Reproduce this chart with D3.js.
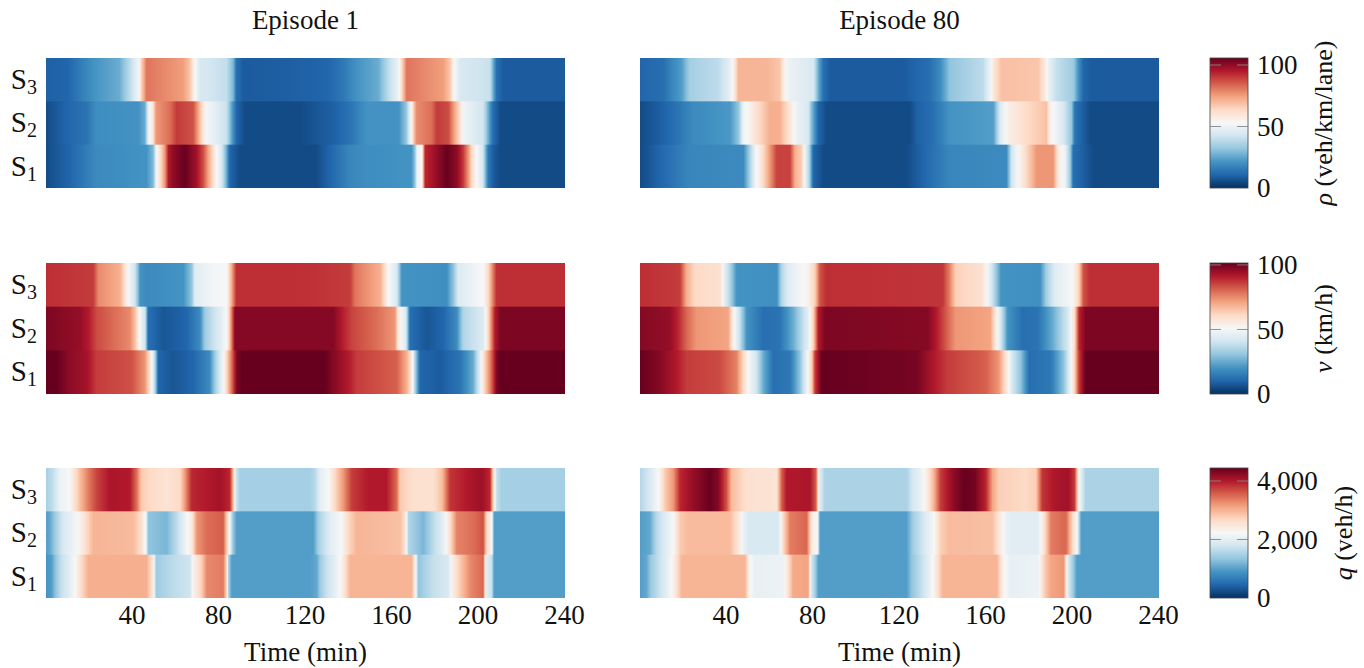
<!DOCTYPE html>
<html>
<head>
<meta charset="utf-8">
<script src="https://cdn.jsdelivr.net/npm/d3@7"></script>
<style>
  body { margin: 0; background: #fff; }
  text { font-family: "Liberation Serif", serif; fill: #111; }
</style>
</head>
<body>
<svg id="chart" width="1364" height="668"></svg>
<script>
// readings are [minute, value] pairs taken where the colour changes along each row
const rhoE1S3 = [[0,9.5],[10,10.5],[14,14],[22,21],[34,26.5],[38.8,39],[42.7,50.7],[44.2,65.5],[46.5,81.4],[55.8,78],[63.5,75],[66.6,67.6],[68.9,52.9],[71.2,44.4],[83.5,40],[86.6,28.5],[88.1,12.7],[91.2,8.5],[117.5,9.5],[130,10.5],[137.5,14.8],[143.7,21],[153.7,26.4],[158.3,39],[163,49.7],[164.5,63.4],[166.8,81.4],[176,78],[183.7,75],[186.8,67.6],[188.7,52.9],[191.5,44.4],[205.3,41],[206.6,28.5],[208.4,12.7],[211.5,8.5],[240,8.5]];
const rhoE1S2 = [[0,5.3],[9.6,10.6],[18.8,13.7],[23.4,20],[42.7,21],[45.8,26.4],[47.3,48.6],[49.3,59.2],[50.9,76],[57.3,82.4],[60.4,90],[68,86.7],[70.4,74],[72,63.4],[74.3,51.8],[83.5,41],[85.9,24.3],[88.1,10.6],[92,5.3],[117.5,5.3],[132.9,9.5],[140.6,13.7],[148.3,21],[163,21],[166.5,31.7],[168.6,50.7],[170.6,72],[171.4,78],[178.3,82.4],[180.7,90],[186,87.7],[188.4,76],[191.1,63.4],[193,50.7],[202.2,42.3],[203.8,31.7],[206.6,12.7],[210,5.3],[240,5.3]];
const rhoE1S1 = [[0,5.3],[4.2,7.4],[11,10.6],[15.7,13.7],[23.4,19],[46.5,21.1],[49.6,29.6],[51.2,52.9],[52.7,61.3],[55,76.1],[56.6,95.1],[58.9,100.4],[64.3,105.7],[69.7,97.2],[72.8,86.7],[75,74],[76.6,65.5],[78.9,52.9],[81.2,44.4],[83.5,26.4],[85,10.6],[89.7,5.3],[125,5.3],[131.3,10.6],[140.6,18],[148.3,20],[169,21.1],[170.6,31.7],[171.7,50.7],[173.7,52.9],[175.3,93],[179.1,97.2],[185.3,105.7],[189.9,100.4],[193,89.8],[195.3,76.1],[196.8,63.4],[199.1,52.9],[201.9,44.4],[203,31.7],[204.5,14.8],[206.9,8.5],[210,5.3],[240,5.3]];
const rhoE80S3 = [[0,10.6],[10.8,12.7],[15.4,19],[19.3,23.3],[23,34.9],[36.2,39.1],[40.8,46.5],[43.2,55],[45.5,70.8],[58.6,70.8],[64.7,67.6],[66.3,58.1],[68.6,49.7],[80.2,44.4],[82.5,26.4],[84.8,12.7],[87.9,8.5],[121.8,8.5],[134,12.7],[138.7,19],[143.3,31.7],[158.7,39.1],[161.8,49.7],[164.1,61.3],[167.2,68.7],[184.2,67.6],[187.3,58.1],[188.8,49.7],[192.6,40.2],[200.4,33.8],[202.7,21.1],[205,10.6],[208.8,8.5],[240,8.5]];
const rhoE80S2 = [[0,5.3],[7.7,8.5],[13.9,11.6],[24.7,19],[41.6,22.2],[45.5,31.7],[47.8,49.7],[51.6,57.1],[57,66.6],[60,71.9],[64.7,71.9],[69.4,59.2],[72.4,49.7],[77.8,44.4],[79.4,29.6],[82.5,10.6],[86.3,5.3],[124.8,5.3],[127.9,9.5],[135.6,12.7],[143.3,21.1],[163.4,23.3],[166.4,44.4],[170.3,56],[179.5,63.4],[188,68.7],[189.6,55],[195.7,44.4],[199.6,31.7],[201.1,13.7],[208,5.3],[240,5.3]];
const rhoE80S1 = [[0,5.3],[3.9,7.4],[10.8,11.6],[23.1,18],[47.8,19],[51.6,40.2],[53.2,49.7],[56.3,60.2],[60.1,76.1],[63.2,88.8],[69.4,88.8],[71.7,71.9],[74.8,65.5],[76.3,49.7],[78.2,37],[80.2,10.6],[84.8,5.3],[123.3,5.3],[131,10.6],[143.3,18],[169.5,19],[171.8,42.3],[174.1,50.7],[179.5,65.5],[183.4,76.1],[191.1,76.1],[193.4,58.1],[196.5,49.7],[199.1,31.7],[200.4,12.7],[209.6,5.3],[240,5.3]];

const vE1S3 = [[0,88.3],[21.9,86.3],[24.2,75.1],[34.2,69],[36,60.9],[38,50.8],[41.2,40.6],[43.5,20.3],[46.5,18.3],[63.5,20.3],[67.4,30.5],[68.9,44.7],[77.4,49.7],[83.5,50.8],[85,62.9],[86.6,76.1],[88,88.3],[117.5,88.3],[140.6,86.3],[142.9,78.2],[154.5,69],[156.8,58.9],[158.3,50.8],[162.2,42.6],[164.5,20.3],[185.3,19.3],[188.4,30.5],[190.7,43.6],[202.2,50.8],[204.5,60.9],[206.6,76.1],[208.4,88.3],[240,88.3]];
const vE1S2 = [[0,98.5],[15.7,95.4],[19.6,91.4],[23.4,84.2],[38.8,75.1],[41.2,66],[43.2,50.8],[45.8,40.6],[47.3,12.2],[54.3,7.1],[65,10.2],[71.2,18.3],[73.5,32.5],[80.5,44.7],[83.5,50.8],[85,66],[87.4,97.5],[132.9,97.5],[136.7,91.4],[141.4,85.3],[152.9,79.2],[161.4,73.1],[162.9,55.8],[166.5,42.6],[168.3,12.2],[176,7.1],[183.7,10.2],[189.9,18.3],[193,35.5],[202.2,43.6],[204.5,60.9],[207.6,91.4],[210,98.5],[240,98.5]];
const vE1S1 = [[0,101.5],[4.9,101.5],[11,96.4],[18.8,93.4],[23.4,86.3],[39.8,83.2],[45.8,73.1],[47.3,62.9],[48.9,50.8],[50.4,35.5],[52,10.2],[58.9,7.1],[68,10.2],[75.6,18.3],[78.7,35.5],[81.9,48.7],[83.5,60.9],[85.9,79.2],[88.2,98.5],[90.5,101.5],[129,101.5],[132.9,97.4],[139.8,91.4],[143.7,86.3],[162.2,81.2],[166.8,69],[169.1,55.8],[170.6,35.5],[173,10.2],[182.2,8.1],[191.4,13.2],[197.6,25.4],[200.7,45.7],[202.7,60.9],[206.1,81.2],[208.4,98.5],[210,101.5],[240,101.5]];
const vE80S3 = [[0,88.3],[18.5,86.3],[21.6,69],[25.4,60.9],[37,58.9],[39.3,44.7],[41.6,35.5],[44.7,20.3],[63.2,19.3],[65.5,35.5],[68.6,44.7],[77.8,52.8],[80.9,62.9],[83.2,83.2],[86.3,88.3],[140,87.3],[143.3,76.1],[146,62.9],[158,58.9],[161.8,45.7],[164.5,32.5],[167,20.3],[185,19.3],[188,33.5],[192,44.7],[200,50.8],[203,62.9],[205,83.2],[208,88.3],[240,88.3]];
const vE80S2 = [[0,97.5],[13.9,95.4],[17.7,89.3],[21.6,80.2],[26.2,73.1],[40.8,71.1],[43.2,52.8],[46.2,38.6],[49.3,20.3],[57,12.2],[64.7,13.2],[70.9,25.4],[77.8,45.7],[80.2,62.9],[82.5,91.4],[85.5,98.5],[133,97.5],[137,91.4],[141,83.2],[146,73.1],[162,71.1],[164.5,55.8],[167,40.6],[170,20.3],[177,12.2],[184,13.2],[191,25.4],[198,42.6],[201,60.9],[203,89.3],[206,98.5],[240,98.5]];
const vE80S1 = [[0,101.5],[9.2,97.4],[17,91.4],[21.6,86.3],[37,84.2],[44.7,76.1],[47.8,60.9],[50.1,50.8],[53.9,40.6],[57,25.4],[61.7,12.2],[69.4,14.2],[74,30.5],[77.1,47.7],[79.4,62.9],[80.9,86.3],[84,101.5],[128,99.5],[134,93.4],[142,86.3],[160,81.2],[166,73.1],[169,58.9],[172,42.6],[176,30.5],[180,12.2],[190,14.2],[196,30.5],[199,47.7],[201,62.9],[203,86.3],[206,101.5],[240,101.5]];

const qE1S3 = [[0,1470],[3.4,1690],[6.5,2090],[11,2220],[13.4,2580],[16.5,3020],[19.6,3380],[23.4,3730],[29.6,4040],[38.8,4000],[41.9,3470],[44.2,2800],[48,2670],[55.8,2530],[62,2670],[64.3,3200],[67.4,3910],[74.3,4000],[80.5,4090],[85,3910],[86.3,3110],[87.9,1780],[89.7,1470],[122,1470],[124.4,1600],[126.7,2000],[130.6,2220],[133.6,2670],[137.5,3200],[141.4,3780],[149,4000],[157.5,4000],[162.2,3470],[163.7,2800],[169.9,2580],[179,2580],[183,2890],[186.8,3820],[194.5,4000],[201.5,4130],[205.3,3910],[206.9,2670],[208.4,1690],[210.7,1470],[240,1470]];
const qE1S2 = [[0,980],[1.8,1070],[4.9,1510],[8,1870],[14.2,2180],[17.3,2490],[21.9,2980],[40.4,2930],[44.2,2580],[46.2,2130],[47.3,1330],[55.8,1200],[60.4,1640],[63.5,2000],[67.4,2440],[69.7,3200],[74.3,3470],[82,3560],[84.3,2440],[86.6,1330],[88.2,980],[123.6,980],[126,1470],[131.3,1960],[136.7,2220],[139.8,2670],[143.7,2980],[163.7,2890],[166,2580],[167.6,1560],[174.5,1200],[179.1,1640],[183.7,2000],[186.8,2580],[189.9,3330],[197.6,3470],[202.2,3640],[203.8,2670],[206.1,2220],[207.2,980],[240,980]];
const qE1S1 = [[0,890],[2.6,980],[4.2,1300],[7,1700],[9.6,1870],[13.4,2220],[16.5,2670],[19.6,3020],[46.5,3020],[49.6,2440],[50.9,1420],[58.9,1640],[66.6,1780],[68.1,2310],[71.9,2760],[74.3,3290],[82,3380],[83.5,2670],[84.3,1560],[85.9,980],[122,980],[125.2,1070],[126.7,1400],[129.5,1700],[133.6,2000],[136.7,2310],[140.6,2980],[169.1,2980],[170.6,2440],[172.2,1330],[174.5,1470],[179,1690],[186,1870],[187.6,2310],[191.4,2800],[196.1,3290],[202.2,3510],[203.5,2000],[206.1,1690],[207.2,980],[240,980]];
const qE80S3 = [[0,1560],[4.6,1870],[8.5,2220],[11.6,2800],[15.4,3200],[18.5,3910],[24.7,4180],[32.4,4440],[36.2,4270],[40,3640],[42.4,2930],[49.3,2580],[63.2,2530],[65.5,3560],[67.8,4000],[78.6,4040],[81.4,3560],[82.9,2000],[85.5,1510],[123.3,1510],[126.4,1870],[129.5,2040],[133,2440],[136,3020],[139,3780],[145,4220],[150,4440],[155,4360],[160,3910],[163,3110],[166,2760],[178,2670],[183,2760],[186,3820],[192,4040],[198,4090],[201,3780],[203,2220],[206,1510],[240,1510]];
const qE80S2 = [[0,980],[4.6,1070],[7.7,1600],[12.3,2000],[15.4,2220],[18.5,2800],[22.4,2930],[41.6,2930],[45.5,2490],[47.8,2090],[50.1,1870],[64,1870],[66.3,2670],[69.4,3380],[77.1,3510],[79.4,2440],[82,2220],[83.2,980],[123.3,980],[126.4,1470],[129.5,1690],[133,2000],[136,2220],[139,2760],[143,2930],[163,2890],[166,2490],[169,2090],[172,1960],[184,1960],[187,2580],[190,3380],[197,3510],[200,2670],[202,2220],[204,980],[240,980]];
const qE80S1 = [[0,980],[3,1070],[5,1400],[8,1640],[12.3,2000],[15.4,2310],[19.3,2980],[48.6,2980],[50.9,2220],[53.2,2040],[66.3,2090],[69.4,2760],[70.9,3070],[77.8,3110],[79.1,1870],[80.9,1470],[82.5,980],[123.3,980],[125.6,1330],[129.5,1640],[133,1960],[136,2310],[140,2980],[165,2980],[168,2310],[171,2040],[184,2090],[187,2760],[190,3110],[196,3200],[198,1870],[200,1470],[202,980],[240,980]];

const sections = ['3', '2', '1'];
const episodes = ['Episode 1', 'Episode 80'];
const timeTicks = [40, 80, 120, 160, 200, 240];
const rhoTicks = [0, 50, 100];
const vTicks = [0, 50, 100];
const qTicks = [0, 2000, 4000];

const svg = d3.select('#chart');
const defs = svg.append('defs');

// layout of the grid
const panelX = [[46, 565], [640, 1159]];
const barX = [1210, 1248];
const TICK_FONT = 27;

const rows = [
    { key: 'rho', y: [58, 188], max: 105.7, ticks: rhoTicks, e1: [rhoE1S3, rhoE1S2, rhoE1S1], e80: [rhoE80S3, rhoE80S2, rhoE80S1],
      symbol: 'ρ', unit: ' (veh/km/lane)', labelX: 1332, fmt: d3.format('d') },
    { key: 'v', y: [263, 394], max: 101.5, ticks: vTicks, e1: [vE1S3, vE1S2, vE1S1], e80: [vE80S3, vE80S2, vE80S1],
      symbol: 'v', unit: ' (km/h)', labelX: 1332, fmt: d3.format('d') },
    { key: 'q', y: [468, 598], max: 4444, ticks: qTicks, e1: [qE1S3, qE1S2, qE1S1], e80: [qE80S3, qE80S2, qE80S1],
      symbol: 'q', unit: ' (veh/h)', labelX: 1352, fmt: d3.format(',') }
];

const x = d3.scaleLinear().domain([0, 240]);
const colormap = d3.scaleLinear()
    .domain(d3.range(11).map(i => i / 10))
    .range(d3.schemeRdBu[11].slice().reverse());

// one gradient per row: extra stops between readings keep the colormap bends
const rowGradient = (id, readings, max) => {
    const grad = defs.append('linearGradient').attr('id', id);
    const stops = [];
    d3.pairs(readings).forEach(([a, b]) => {
        d3.range(4).forEach(i => {
            const f = i / 4;
            stops.push([a[0] + (b[0] - a[0]) * f, a[1] + (b[1] - a[1]) * f]);
        });
    });
    stops.push(readings[readings.length - 1]);
    grad.selectAll('stop').data(stops).join('stop')
        .attr('offset', d => d[0] / 240)
        .attr('stop-color', d => colormap(d[1] / max));
};

const noLine = g => g.call(a => a.select('.domain').remove()).call(a => a.selectAll('.tick line').remove());

rows.forEach((row, r) => {
    const band = d3.scaleBand().domain(sections).range(row.y);

    [row.e1, row.e80].forEach((series, p) => {
        const panel = svg.append('g');
        x.range(panelX[p]);

        series.forEach((readings, s) => {
            const id = `${row.key}-${p}-${s}`;
            rowGradient(id, readings, row.max);
            panel.append('rect')
                .attr('x', x(0))
                .attr('width', x(240) - x(0))
                .attr('y', band(sections[s]))
                .attr('height', band.bandwidth() + (s < 2 ? 0.7 : 0))
                .attr('fill', `url(#${id})`);
        });

        // section labels only on the left column
        if (p === 0) {
            const yAxis = panel.append('g')
                .attr('transform', `translate(${panelX[0][0] - 9},0)`)
                .call(d3.axisLeft(band).tickSize(0).tickPadding(0))
                .call(noLine);
            yAxis.selectAll('.tick text').each(function(d) {
                const t = d3.select(this).text(null).attr('font-size', 29);
                t.append('tspan').text('S');
                t.append('tspan').attr('dy', 5).attr('font-size', 20).text(d);
            });
        }

        if (r === 2) {
            panel.append('g')
                .attr('transform', `translate(-1,${row.y[1]})`)
                .call(d3.axisBottom(x).tickValues(timeTicks).tickSize(0).tickPadding(7))
                .call(noLine)
                .selectAll('text').attr('font-size', TICK_FONT);
            panel.append('text')
                .attr('x', (panelX[p][0] + panelX[p][1]) / 2)
                .attr('y', 661)
                .attr('text-anchor', 'middle')
                .attr('font-size', TICK_FONT)
                .text('Time (min)');
        }

        if (r === 0) {
            panel.append('text')
                .attr('x', (panelX[p][0] + panelX[p][1]) / 2)
                .attr('y', 29)
                .attr('text-anchor', 'middle')
                .attr('font-size', TICK_FONT)
                .text(episodes[p]);
        }
    });

    // colorbar
    const c = d3.scaleLinear().domain([0, row.max]).range([row.y[1], row.y[0]]);
    const barId = `bar-${row.key}`;
    const grad = defs.append('linearGradient').attr('id', barId)
        .attr('x1', 0).attr('x2', 0).attr('y1', 1).attr('y2', 0);
    grad.selectAll('stop').data(colormap.domain()).join('stop')
        .attr('offset', d => d)
        .attr('stop-color', d => colormap(d));
    svg.append('rect')
        .attr('x', barX[0]).attr('y', row.y[0])
        .attr('width', barX[1] - barX[0]).attr('height', row.y[1] - row.y[0])
        .attr('fill', `url(#${barId})`)
        .attr('stroke', '#444').attr('stroke-width', 0.8);

    row.ticks.filter(d => d > 0).forEach(d => {
        [[barX[0], barX[0] + 11], [barX[1] - 11, barX[1]]].forEach(seg => {
            svg.append('line')
                .attr('x1', seg[0]).attr('x2', seg[1])
                .attr('y1', c(d)).attr('y2', c(d))
                .attr('stroke', '#888').attr('stroke-width', 0.9);
        });
    });

    svg.append('g')
        .attr('transform', `translate(${barX[1]},0)`)
        .call(d3.axisRight(c).tickValues(row.ticks).tickFormat(row.fmt).tickSize(0).tickPadding(9))
        .call(noLine)
        .selectAll('text').attr('font-size', TICK_FONT);

    const label = svg.append('text')
        .attr('transform', `translate(${row.labelX},${(row.y[0] + row.y[1]) / 2}) rotate(-90)`)
        .attr('text-anchor', 'middle')
        .attr('font-size', 26);
    label.append('tspan').attr('font-style', 'italic').text(row.symbol);
    label.append('tspan').text(row.unit);
});
</script>
</body>
</html>
